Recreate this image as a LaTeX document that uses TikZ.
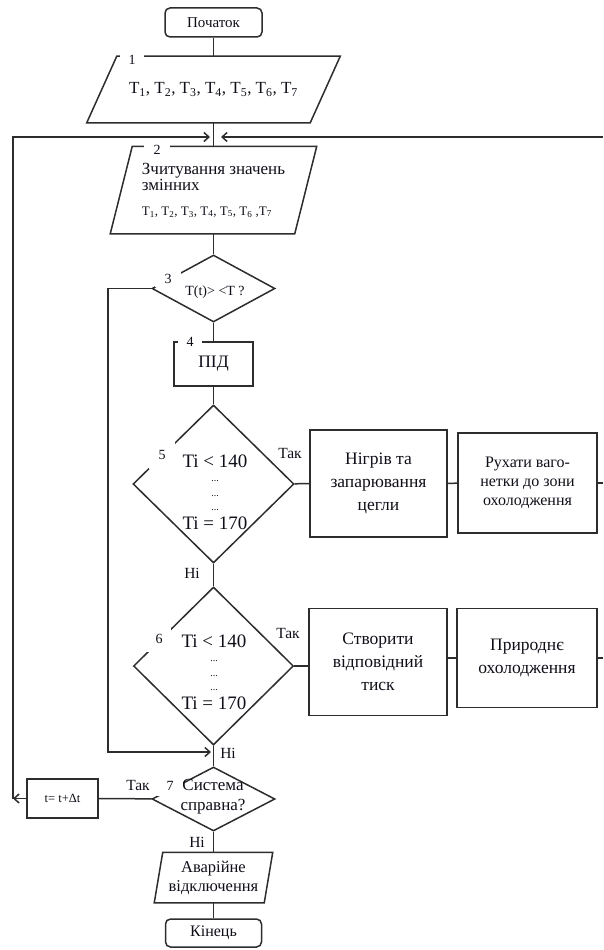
\documentclass[tikz,border=0pt]{standalone}
\usepackage{fontspec}
\setmainfont{Liberation Serif}
\usetikzlibrary{shapes.geometric, arrows.meta}
\definecolor{ink}{RGB}{45,45,45}
\definecolor{txt}{RGB}{15,15,25}

\tikzset{
  base/.style={draw=ink, line width=1.5pt, fill=white, text=txt, inner sep=0pt},
  term/.style={base, rounded corners=5pt, font=\fontsize{15}{17}\selectfont},
  io/.style={inner sep=0pt, text=txt},
  proc/.style={base, rectangle, align=center, font=\fontsize{17.5}{23}\selectfont},
  cond/.style={base, diamond},
  stepno/.style={fill=white, inner sep=0pt, text=txt, font=\fontsize{14}{14}\selectfont},
  ctext/.style={align=center, inner sep=0pt, text=txt, font=\fontsize{19}{14.5}\selectfont},
  ans/.style={inner sep=0pt, text=txt, font=\fontsize{15.5}{16}\selectfont},
  flow/.style={-{Straight Barb[length=5pt,width=9pt]}}
}
\newcommand{\Tn}[1]{T\textsubscript{#1}}
\newcommand{\dotrow}{{\fontsize{10}{10}\selectfont ...}}

\begin{document}
\begin{tikzpicture}[x=1pt, y=-1pt, line width=1.5pt, ink]
  \useasboundingbox (0,0) rectangle (603,950);

  \node[term, minimum width=97, minimum height=29] (start) at (213.5,22.5) {Початок};
  \node[io, minimum width=252, minimum height=65, font=\fontsize{17}{20}\selectfont] (in1) at (213.5,89.5)
    {\Tn1, \Tn2, \Tn3, \Tn4, \Tn5, \Tn6, \Tn7};
  \draw ([xshift=30pt]in1.north west) -- (in1.north east) -- ([xshift=-30pt]in1.south east)
    -- (in1.south west) -- cycle;
  \node[io, minimum width=205, minimum height=86, align=left, font=\fontsize{17}{16}\selectfont] (in2) at (213.5,190)
    {Зчитування значень\\змінних\\[9pt]{\fontsize{13}{14}\selectfont \Tn1, \Tn2, \Tn3, \Tn4, \Tn5, \Tn6 ,\Tn7}};
  \draw ([xshift=22pt]in2.north west) -- (in2.north east) -- ([xshift=-22pt]in2.south east)
    -- (in2.south west) -- cycle;
  \node[cond, minimum width=123, minimum height=67] (c3) at (213.5,288.5) {};
  \node[proc, minimum width=79, minimum height=44] (pid) at (213.5,364) {ПІД};
  \node[cond, minimum width=161, minimum height=158] (c5) at (213.5,484) {};
  \node[proc, minimum width=137, minimum height=107] (heat) at (378.5,483.5) {Нігрів та\\запарювання\\цегли};
  \node[proc, minimum width=139, minimum height=100, font=\fontsize{16}{19}\selectfont] (move) at (527.5,483)
    {Рухати ваго-\\нетки до зони\\охолодження};
  \node[cond, minimum width=160, minimum height=158] (c6) at (213.5,666) {};
  \node[proc, minimum width=138, minimum height=107] (press) at (378,662) {Створити\\відповідний\\тиск};
  \node[proc, minimum width=140, minimum height=99] (cool) at (527,658) {Природнє\\охолодження};
  \node[cond, minimum width=123, minimum height=64] (c7) at (213.5,799) {};
  \node[proc, minimum width=71, minimum height=39, font=\fontsize{12.5}{14}\selectfont] (tick) at (62.5,798.5) {t= t+Δt};
  \node[io, minimum width=117, minimum height=49, align=center, font=\fontsize{16.5}{19}\selectfont] (alarm) at (213.5,877.5)
    {Аварійне\\відключення};
  \draw ([xshift=8.5pt]alarm.north west) -- (alarm.north east) -- ([xshift=-8.5pt]alarm.south east)
    -- (alarm.south west) -- cycle;
  \node[term, minimum width=96, minimum height=28, font=\fontsize{16}{17}\selectfont] (stop) at (213.5,933) {Кінець};

  \node[stepno, minimum width=24, minimum height=14] (n1) at (132,60) {1};
  \node[stepno, minimum width=26, minimum height=12] (n2) at (157,150) {2};
  \node[stepno, minimum width=26, minimum height=15] (n3) at (168,279) {3};
  \node[stepno, minimum width=24, minimum height=10] (n4) at (190,342) {4};
  \node[stepno, minimum width=26, minimum height=28] (n5) at (162,455) {5};
  \node[stepno, minimum width=24, minimum height=26] (n6) at (159,639) {6};
  \node[stepno, minimum width=26, minimum height=20] (n7) at (170,786) {7};

  \node[ctext, font=\fontsize{14}{16}\selectfont] (t3) at (215,292) {T(t)> <T ?};
  \node[ctext] (t5) at (215,492) {Ti < 140\\\dotrow\\\dotrow\\\dotrow\\[4pt]Ti = 170};
  \node[ctext] (t6) at (214,672) {Ti < 140\\\dotrow\\\dotrow\\\dotrow\\[4pt]Ti = 170};
  \node[ctext, font=\fontsize{17}{20}\selectfont] (t7) at (213,797) {Система\\справна?};

  \node[ans] (y5) at (290,453) {Так};
  \node[ans] (no5) at (192,573) {Ні};
  \node[ans] (y6) at (288,633) {Так};
  \node[ans] (no6) at (228,753) {Ні};
  \node[ans] (y7) at (138,785) {Так};
  \node[ans] (no7) at (197,842) {Ні};

  \coordinate (mergeL) at (210,137);
  \coordinate (mergeR) at (221,137);
  \coordinate (edgeR) at (603,137);
  \coordinate (backL) at (13,798.5);
  \coordinate (loop3) at (108,288.5);
  \coordinate (join6) at (211,752);

  \draw (start) -- (in1);
  \draw (in1) -- (in2);
  \draw[flow] (edgeR) -- (mergeR);
  \draw[flow] (tick) -- (backL);
  \draw[flow] (backL) |- (mergeL);
  \draw (in2) -- (c3);
  \draw (c3) -- (pid);
  \draw (pid) -- (c5);
  \draw (c5) -- (c6);
  \draw (c6) -- (c7);
  \draw (c7) -- (alarm);
  \draw (alarm) -- (stop);
  \draw[flow] (c3.west) -- (loop3) |- (join6);
  \draw (c5) -- (heat);
  \draw (heat) -- (move);
  \draw (move.east) -- (move.east -| edgeR);
  \draw (c6.east) -- (c6.east -| press.west);
  \draw (press.east |- cool) -- (cool);
  \draw (cool.east) -- (cool.east -| edgeR);
  \draw (c7) -- (tick);
\end{tikzpicture}
\end{document}
